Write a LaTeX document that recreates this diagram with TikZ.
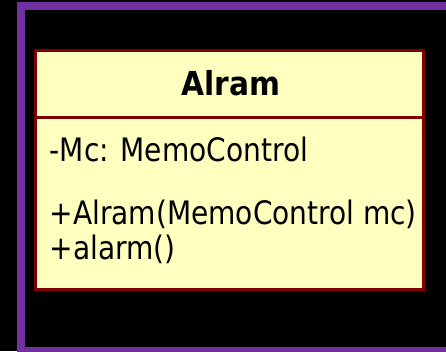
\documentclass[tikz,border=0pt]{standalone}
\usepackage{fontspec}
\setmainfont[FakeStretch=0.965]{DejaVu Sans Condensed}
\newfontfamily\hdrfont{DejaVu Sans Condensed Bold}
\definecolor{framepurple}{RGB}{112,48,160}
\definecolor{classred}{RGB}{128,0,0}
\definecolor{classfill}{RGB}{255,255,192}
\begin{document}
\begin{tikzpicture}[x=1pt,y=-1pt,
  member/.style={anchor=base west,inner sep=0pt,font=\fontsize{32.3}{38}\selectfont},
  title/.style={anchor=base,inner sep=0pt,font=\hdrfont\fontsize{33}{38}\selectfont}]
\useasboundingbox (0,0) rectangle (446,351);
\fill[black] (0,0) rectangle (446,351);
\begin{scope}
\clip (0,0) rectangle (446,351);
\draw[framepurple,line width=8pt] (21,6) rectangle (470,351);
\end{scope}
\draw[classred,fill=classfill,line width=3pt] (35.5,50.5) rectangle (423.5,289);
\draw[classred,line width=2.5pt] (35.5,117.5) -- (423.5,117.5);
\node[title] (name) at (231,95) {Alram};
\node[member] (attr) at (49.5,161) {-Mc: MemoControl};
\node[member] (op1) at (49.5,224.5) {+Alram(MemoControl mc)};
\node[member] (op2) at (49.5,259.5) {+alarm()};
\end{tikzpicture}
\end{document}
